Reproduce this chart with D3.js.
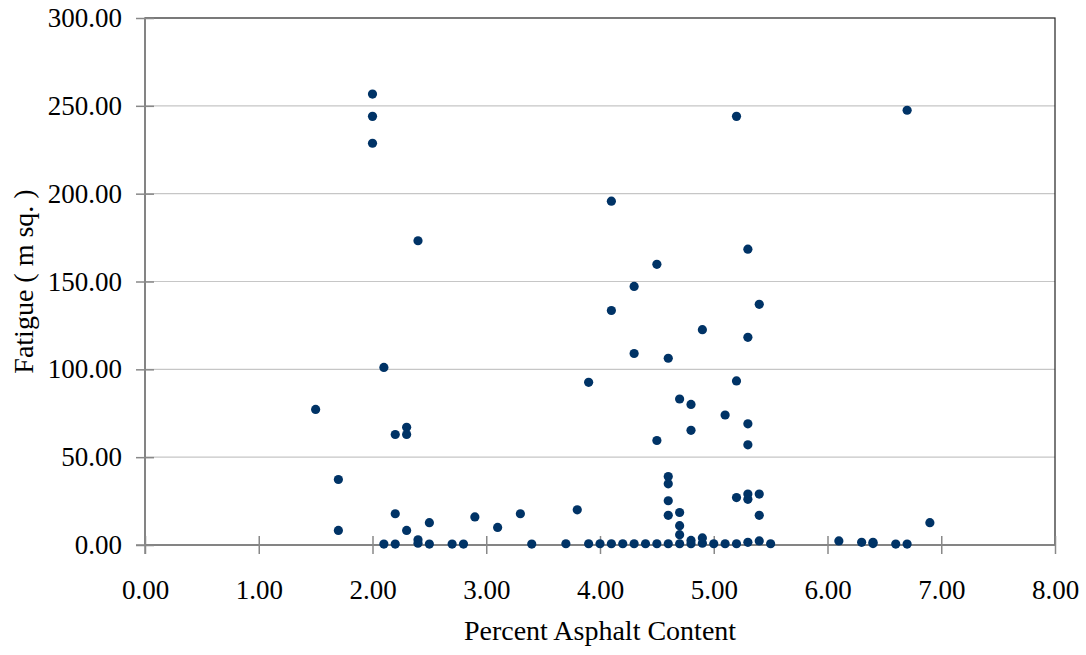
<!DOCTYPE html>
<html>
<head>
<meta charset="utf-8">
<script src="https://cdn.jsdelivr.net/npm/d3@7"></script>
<style>
  body { margin: 0; background: #fff; }
  svg { display: block; }
</style>
</head>
<body>
<div id="chart"></div>
<script>
// values
const asphalt = [
  1.5, 1.7, 1.7, 2.0, 2.0, 2.0, 2.1, 2.1, 2.2, 2.2, 2.2, 2.3, 2.3, 2.3,
  2.4, 2.4, 2.4, 2.5, 2.5, 2.7, 2.8, 2.9, 3.1, 3.3, 3.4, 3.7, 3.8, 3.9, 3.9,
  4.0, 4.1, 4.1, 4.1, 4.2, 4.3, 4.3, 4.3, 4.4, 4.5, 4.5, 4.5,
  4.6, 4.6, 4.6, 4.6, 4.6, 4.6, 4.7, 4.7, 4.7, 4.7, 4.7,
  4.8, 4.8, 4.8, 4.8, 4.9, 4.9, 4.9, 5.0, 5.1, 5.1, 5.2, 5.2, 5.2, 5.2,
  5.3, 5.3, 5.3, 5.3, 5.3, 5.3, 5.3, 5.4, 5.4, 5.4, 5.4, 5.5,
  6.1, 6.3, 6.4, 6.4, 6.6, 6.7, 6.7, 6.9
];
const fatigue = [
  77.2, 37.3, 8.3, 256.7, 244.0, 228.7, 101.1, 0.5, 62.9, 17.8, 0.5, 67.0, 62.9, 8.3,
  173.2, 3.0, 1.0, 12.7, 0.5, 0.5, 0.5, 16.0, 10.0, 17.8, 0.5, 0.7, 20.0, 92.6, 0.7,
  0.7, 195.7, 133.5, 0.7, 0.7, 147.2, 109.0, 0.7, 0.7, 159.8, 59.5, 0.7,
  106.3, 39.0, 34.8, 25.2, 16.9, 0.7, 83.1, 18.5, 11.0, 5.9, 0.7,
  80.0, 65.3, 2.6, 0.7, 122.6, 4.0, 1.0, 0.7, 74.0, 0.7, 244.0, 93.4, 27.0, 0.7,
  168.4, 118.2, 69.0, 57.0, 29.0, 26.0, 1.5, 137.0, 29.0, 16.9, 2.3, 0.7,
  2.3, 1.5, 1.5, 0.8, 0.5, 247.5, 0.5, 12.7
];
const xTicks = [0, 1, 2, 3, 4, 5, 6, 7, 8];
const yTicks = [0, 50, 100, 150, 200, 250, 300];

const points = asphalt.map((a, i) => ({ x: a, y: fatigue[i] }));

const size = { width: 1086, height: 655 };
const margin = { left: 145, right: 31, top: 18, bottom: 110 };
const font = "'Liberation Serif', 'Times New Roman', serif";

const svg = d3.select("#chart")
  .append("svg")
  .attr("width", size.width)
  .attr("height", size.height);

const x = d3.scaleLinear()
  .domain([0, 8])
  .range([margin.left, size.width - margin.right]);

const y = d3.scaleLinear()
  .domain([0, 300])
  .range([size.height - margin.bottom, margin.top]);

// horizontal gridlines
svg.append("g")
  .selectAll("line")
  .data(yTicks.slice(1, -1))
  .join("line")
  .attr("x1", x(0))
  .attr("x2", x(8))
  .attr("y1", (d) => y(d))
  .attr("y2", (d) => y(d))
  .attr("stroke", "#c6c6c6")
  .attr("stroke-width", 1.2);

// plot area frame (top / right)
svg.append("rect")
  .attr("x", x(0))
  .attr("y", y(300))
  .attr("width", x(8) - x(0))
  .attr("height", y(0) - y(300))
  .attr("fill", "none")
  .attr("stroke", "#222")
  .attr("stroke-width", 1.2);

// x axis
const xAxis = svg.append("g")
  .attr("transform", `translate(0, ${y(0)})`)
  .call(d3.axisBottom(x).tickValues(xTicks).tickFormat(d3.format(".2f")).tickSize(9).tickPadding(26));
xAxis.select(".domain").remove();
xAxis.selectAll(".tick line").attr("y1", -9).attr("stroke", "#888").attr("stroke-width", 1.5);
xAxis.selectAll(".tick text")
  .style("font-family", font)
  .style("font-size", "27px")
  .attr("fill", "#000");
xAxis.append("line")
  .attr("x1", x(0) - 9)
  .attr("x2", x(8))
  .attr("stroke", "#888")
  .attr("stroke-width", 1.5);

// y axis
const yAxis = svg.append("g")
  .attr("transform", `translate(${x(0)}, 0)`)
  .call(d3.axisLeft(y).tickValues(yTicks).tickFormat(d3.format(".2f")).tickSize(9).tickPadding(14));
yAxis.select(".domain").remove();
yAxis.selectAll(".tick line").attr("x1", 9).attr("stroke", "#888").attr("stroke-width", 1.5);
yAxis.selectAll(".tick text")
  .style("font-family", font)
  .style("font-size", "27px")
  .attr("fill", "#000");
yAxis.append("line")
  .attr("y1", y(0) + 9)
  .attr("y2", y(300))
  .attr("stroke", "#888")
  .attr("stroke-width", 1.5);

// points
svg.append("g")
  .selectAll("circle")
  .data(points)
  .join("circle")
  .attr("cx", (d) => x(d.x))
  .attr("cy", (d) => y(d.y))
  .attr("r", 4.6)
  .attr("fill", "#003366");

// axis titles
svg.append("text")
  .attr("x", (x(0) + x(8)) / 2)
  .attr("y", 640)
  .attr("text-anchor", "middle")
  .style("font-family", font)
  .style("font-size", "28px")
  .text("Percent Asphalt Content");

svg.append("text")
  .attr("transform", `translate(33, ${(y(0) + y(300)) / 2}) rotate(-90)`)
  .attr("text-anchor", "middle")
  .style("font-family", font)
  .style("font-size", "28px")
  .text("Fatigue ( m sq. )");
</script>
</body>
</html>
